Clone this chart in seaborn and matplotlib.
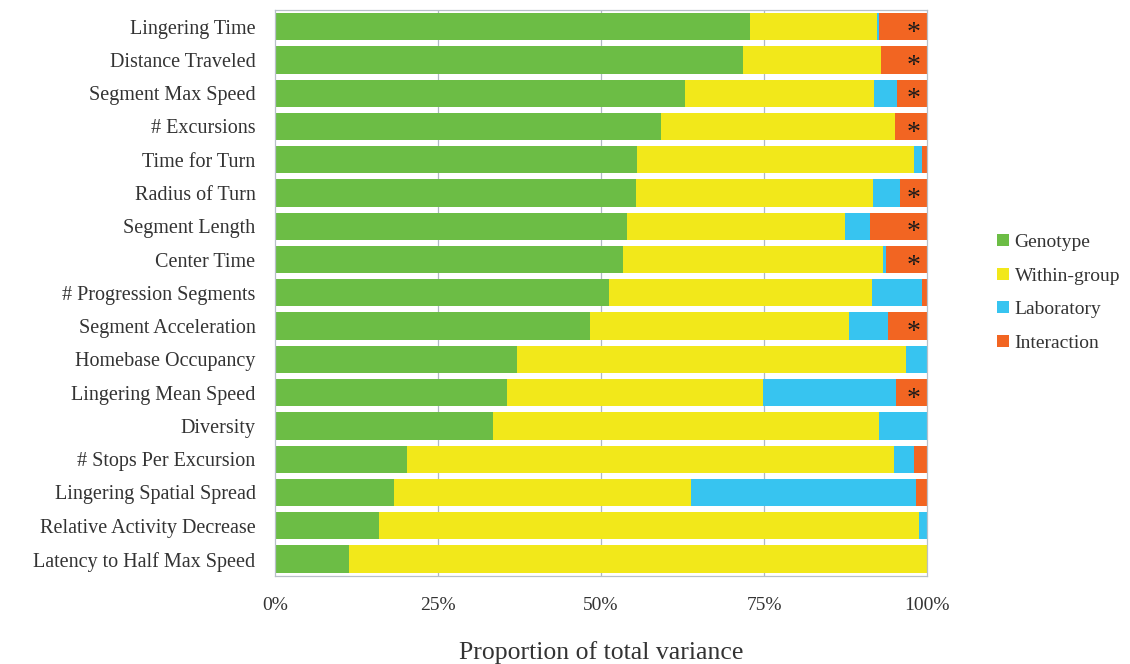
import matplotlib
matplotlib.use("Agg")
import matplotlib.pyplot as plt
import seaborn as sns
import pandas as pd
import numpy as np
from matplotlib.patches import Patch

measures = [
    "Lingering Time", "Distance Traveled", "Segment Max Speed", "# Excursions",
    "Time for Turn", "Radius of Turn", "Segment Length", "Center Time",
    "# Progression Segments", "Segment Acceleration", "Homebase Occupancy",
    "Lingering Mean Speed", "Diversity", "# Stops Per Excursion",
    "Lingering Spatial Spread", "Relative Activity Decrease",
    "Latency to Half Max Speed",
]
genotype = [72.9, 71.8, 62.9, 59.2, 55.5, 55.4, 54.0, 53.4, 51.2, 48.3,
            37.1, 35.6, 33.5, 20.3, 18.2, 16.0, 11.4]
within_group = [19.4, 21.1, 29.0, 35.9, 42.5, 36.3, 33.4, 39.9, 40.4, 39.7,
                59.7, 39.3, 59.1, 74.7, 45.6, 82.8, 88.6]
laboratory = [0.3, 0.0, 3.5, 0.0, 1.2, 4.2, 3.9, 0.4, 7.6, 6.0,
              3.2, 20.3, 7.4, 3.0, 34.5, 1.2, 0.0]
interaction = [7.4, 7.1, 4.6, 4.9, 0.8, 4.1, 8.7, 6.3, 0.8, 6.0,
               0.0, 4.8, 0.0, 2.0, 1.7, 0.0, 0.0]
significant = [True, True, True, True, False, True, True, True, False, True,
               False, True, False, False, False, False, False]

components = ["Genotype", "Within-group", "Laboratory", "Interaction"]
colors = ["#6cbd45", "#f2e81a", "#37c4f0", "#f26522"]
tick_values = [0, 25, 50, 75, 100]
tick_labels = ["0%", "25%", "50%", "75%", "100%"]

df = pd.DataFrame({
    "measure": measures,
    "Genotype": genotype,
    "Within-group": within_group,
    "Laboratory": laboratory,
    "Interaction": interaction,
})
# cumulative extents, so each component is drawn as an overlaid stacked bar
cum = df[components].cumsum(axis=1)

sns.set_theme(style="white")
plt.rcParams["font.family"] = ["Liberation Serif", "DejaVu Serif"]

fig = plt.figure(figsize=(11.3, 6.64), dpi=100)
ax = fig.add_axes([0.2434, 0.133, 0.577, 0.852])

for comp, col in reversed(list(zip(components, colors))):
    sns.barplot(x=cum[comp], y=df["measure"], orient="h", color=col,
                width=0.82, saturation=1, ax=ax, zorder=2, linewidth=0)

for i, flag in enumerate(significant):
    if flag:
        ax.text(97.9, i + 0.2, "*", ha="center", va="center",
                fontsize=20, color="#1a1a1a", zorder=4)

ax.set_xlim(0, 100)
ax.set_ylim(len(measures) - 0.5, -0.5)
ax.set_xticks(tick_values)
ax.set_xticklabels(tick_labels, fontsize=14, color="#333333")
ax.tick_params(axis="x", length=4, color="#9aa7b5", pad=11, width=0.8)
ax.tick_params(axis="y", labelsize=14.5, labelcolor="#333333", length=0, pad=14)
ax.set_ylabel("")
ax.set_xlabel("Proportion of total variance", fontsize=18.5, color="#333333",
              labelpad=20)
for v in tick_values[1:-1]:
    ax.axvline(v, color="#b0b8c2", lw=0.9, zorder=1)
for s in ax.spines.values():
    s.set_color("#b8c0c8")
    s.set_linewidth(0.9)

handles = [Patch(facecolor=c, edgecolor="none", label=l)
           for l, c in zip(components, colors)]
fig.legend(handles=handles, loc="center left", bbox_to_anchor=(0.867, 0.559),
           frameon=False, fontsize=14, handlelength=0.6, handleheight=0.6,
           handletextpad=0.3, labelspacing=0.85, labelcolor="#333333")

fig.savefig("out.png", dpi=100)
